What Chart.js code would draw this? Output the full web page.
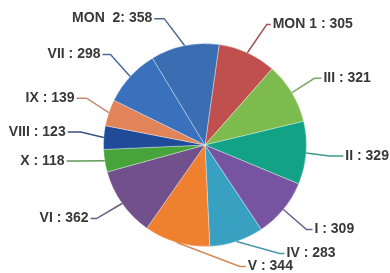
<!DOCTYPE html>
<html>
<head>
<meta charset="utf-8">
<script src="https://cdn.jsdelivr.net/npm/chart.js@4/dist/chart.umd.min.js"></script>
<style>
html,body{margin:0;padding:0;background:#fff;}
#wrap{width:390px;height:273px;position:relative;}
</style>
</head>
<body>
<div id="wrap"><canvas id="c" width="390" height="273"></canvas></div>
<script>
// ---- data ----
const categories = ["MON 1", "III", "II", "I", "IV", "V", "VI", "X", "VIII", "IX", "VII", "MON  2"];
const values = [305, 321, 329, 309, 283, 344, 362, 118, 123, 139, 298, 358];
const labelSeparators = [" : ", " : ", " : ", " : ", " : ", " : ", " : ", " : ", " : ", " : ", " : ", ": "];

// ---- styles ----
const sliceColors = ["#c0504d", "#7dbb4e", "#12a387", "#7654a2", "#38a1c2", "#ef8030",
                     "#71508b", "#46a43a", "#1f4b98", "#e1845a", "#3a71bd", "#3b6db3"];
const lineColors  = ["#a0555a", "#7aa860", "#3f9a8a", "#6e5e90", "#4d95ab", "#cf8a55",
                     "#6a5c80", "#5c9a55", "#3a507f", "#c58a6e", "#4a6d9c", "#4f6a90"];

// label layout: elbow (ex, ey) and line end x (tx), in units of the pie radius from the centre
const labelLayout = [
  [0.608, -1.186, 0.647],
  [1.078, -0.657, 1.147],
  [1.225, 0.108, 1.363],
  [1.0, 0.833, 1.059],
  [0.735, 1.069, 0.784],
  [0.343, 1.196, 0.402],
  [-1.069, 0.725, -1.127],
  [-1.225, 0.157, -1.363],
  [-1.225, -0.127, -1.353],
  [-1.167, -0.461, -1.265],
  [-0.931, -0.892, -1.01],
  [-0.402, -1.245, -0.5]
];

const outLabels = {
  id: 'outLabels',
  afterDatasetsDraw(chart) {
    const ctx = chart.ctx;
    const meta = chart.getDatasetMeta(0);
    ctx.save();
    ctx.font = 'bold 14px "Liberation Sans", Arial, sans-serif';
    ctx.textBaseline = 'middle';
    meta.data.forEach((arc, i) => {
      const p = arc.getProps(['x', 'y', 'startAngle', 'endAngle', 'outerRadius'], true);
      const mid = (p.startAngle + p.endAngle) / 2;
      const r = p.outerRadius;
      const sx = p.x + Math.cos(mid) * r;
      const sy = p.y + Math.sin(mid) * r;
      const [ex, ey, tx] = labelLayout[i];
      const exx = p.x + ex * r, eyy = p.y + ey * r, txx = p.x + tx * r;
      ctx.strokeStyle = lineColors[i];
      ctx.lineWidth = 1.5;
      ctx.beginPath();
      ctx.moveTo(sx, sy);
      ctx.lineTo(exx, eyy);
      ctx.lineTo(txx, eyy);
      ctx.stroke();
      ctx.fillStyle = '#383838';
      const text = categories[i] + labelSeparators[i] + values[i];
      if (tx > ex) { ctx.textAlign = 'left'; ctx.fillText(text, txx + 2, eyy); }
      else { ctx.textAlign = 'right'; ctx.fillText(text, txx - 2, eyy); }
    });
    ctx.restore();
  }
};

new Chart(document.getElementById('c'), {
  type: 'pie',
  data: {
    labels: categories,
    datasets: [{
      data: values,
      backgroundColor: sliceColors,
      borderColor: 'rgba(255,255,255,0.35)',
      borderWidth: 1
    }]
  },
  options: {
    responsive: false,
    animation: false,
    rotation: 8,
    layout: { padding: { top: 43, bottom: 26, left: 103, right: 83 } },
    plugins: { legend: { display: false }, tooltip: { enabled: false } }
  },
  plugins: [outLabels]
});
</script>
</body>
</html>
